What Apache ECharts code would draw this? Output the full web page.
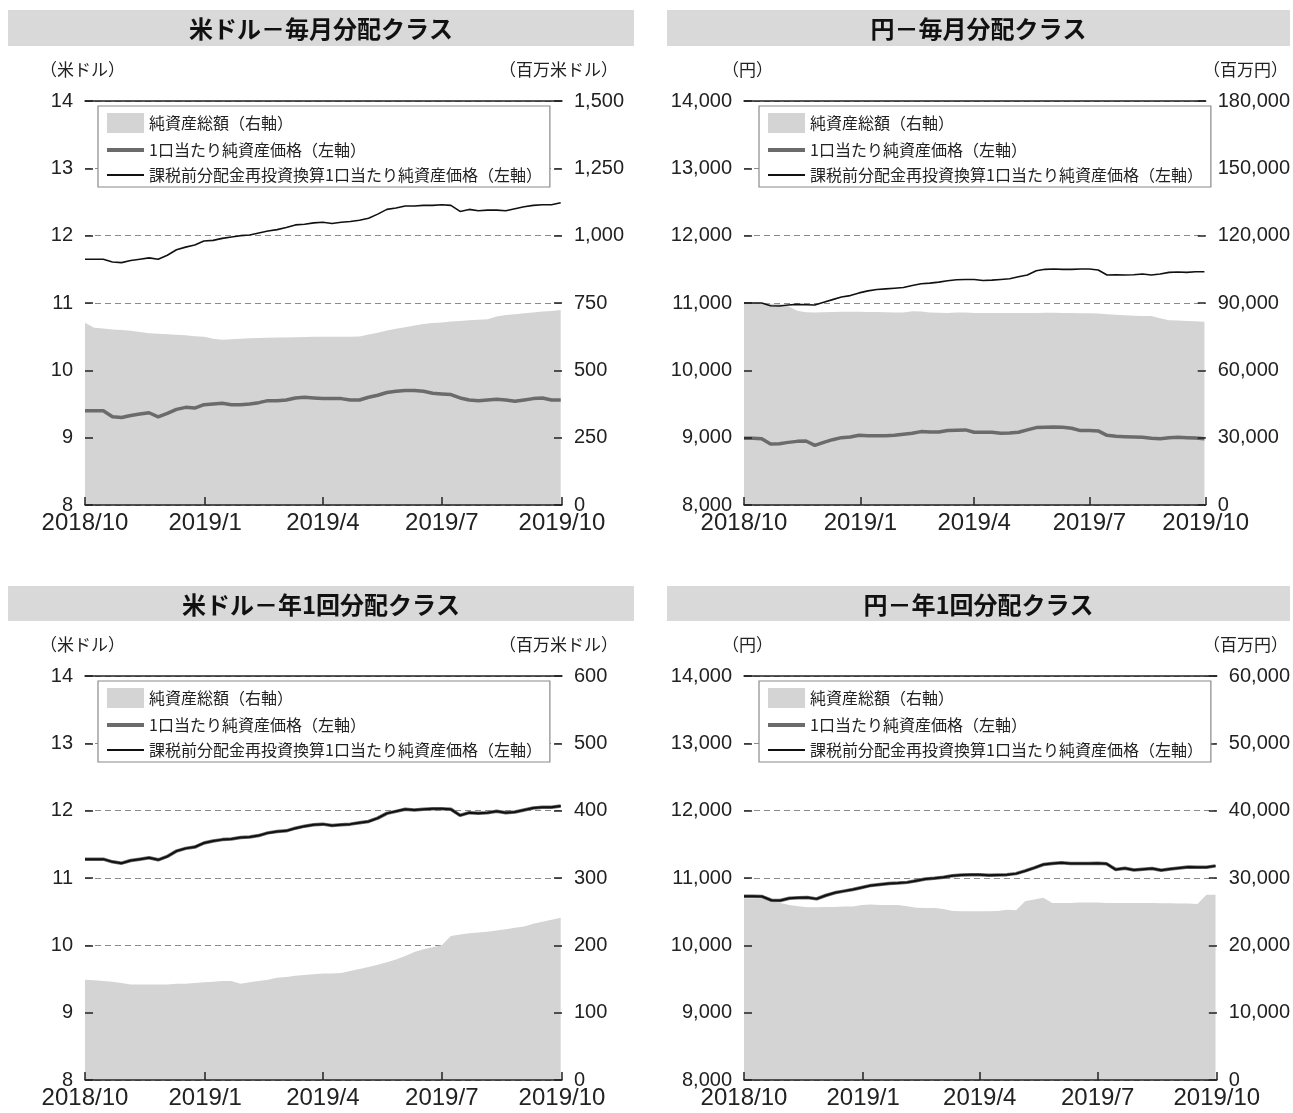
<!DOCTYPE html>
<html>
<head>
<meta charset="utf-8">
<script src="https://cdn.jsdelivr.net/npm/echarts@6/dist/echarts.min.js"></script>
<style>
  html, body { margin: 0; padding: 0; background: #fff; }
  #main { width: 1293px; height: 1113px; }
</style>
</head>
<body>
<div id="main"></div>
<script>
// weekly dates
const dates = [
  '2018-10-01','2018-10-08','2018-10-15','2018-10-22','2018-10-29','2018-11-05','2018-11-12','2018-11-19','2018-11-26',
  '2018-12-03','2018-12-10','2018-12-17','2018-12-24','2018-12-31','2019-01-07','2019-01-14','2019-01-21','2019-01-28',
  '2019-02-04','2019-02-11','2019-02-18','2019-02-25','2019-03-04','2019-03-11','2019-03-18','2019-03-25','2019-04-01',
  '2019-04-08','2019-04-15','2019-04-22','2019-04-29','2019-05-06','2019-05-13','2019-05-20','2019-05-27','2019-06-03',
  '2019-06-10','2019-06-17','2019-06-24','2019-07-01','2019-07-08','2019-07-15','2019-07-22','2019-07-29','2019-08-05',
  '2019-08-12','2019-08-19','2019-08-26','2019-09-02','2019-09-09','2019-09-16','2019-09-23','2019-09-30'
];
const quarterTicks = ['2018-10-01', '2019-01-01', '2019-04-01', '2019-07-01', '2019-10-01'];

// 米ドル－毎月分配クラス
const usdMonthlyNav = [9.40,9.40,9.40,9.31,9.30,9.33,9.35,9.37,9.31,9.36,9.42,9.45,9.44,9.49,9.50,9.51,9.49,9.49,9.50,9.52,9.55,9.55,9.56,9.59,9.60,9.59,9.58,9.58,9.58,9.56,9.56,9.60,9.63,9.67,9.69,9.70,9.70,9.69,9.66,9.65,9.64,9.59,9.56,9.55,9.56,9.57,9.56,9.54,9.56,9.58,9.59,9.56,9.56];
const usdMonthlyReinv = [11.65,11.65,11.65,11.61,11.60,11.63,11.65,11.67,11.65,11.71,11.79,11.83,11.86,11.92,11.93,11.96,11.98,12.00,12.01,12.04,12.07,12.09,12.12,12.16,12.17,12.19,12.20,12.18,12.20,12.21,12.23,12.26,12.32,12.39,12.41,12.44,12.44,12.45,12.45,12.46,12.45,12.36,12.39,12.37,12.38,12.38,12.37,12.40,12.43,12.45,12.46,12.46,12.49];
const usdMonthlyAssets = [677,658,655,652,650,647,642,638,636,634,632,630,627,625,617,614,615,617,619,620,621,622,622,623,624,625,625,625,625,625,626,633,640,648,654,660,666,672,676,678,681,683,686,688,690,700,705,708,712,715,718,720,724];

// 円－毎月分配クラス
const jpyMonthlyNav = [8990,8990,8985,8905,8910,8930,8945,8950,8885,8930,8970,9000,9010,9035,9030,9030,9030,9035,9050,9065,9090,9085,9085,9105,9110,9115,9080,9080,9080,9065,9070,9080,9115,9150,9155,9160,9155,9140,9105,9105,9100,9035,9020,9015,9010,9005,8990,8985,9000,9005,9000,8995,8985];
const jpyMonthlyReinv = [11000,11000,11000,10960,10955,10970,10980,10975,10970,11010,11050,11090,11110,11150,11180,11200,11210,11220,11230,11260,11285,11295,11310,11330,11345,11350,11350,11335,11340,11350,11360,11390,11415,11480,11500,11505,11500,11500,11505,11505,11490,11415,11420,11415,11420,11430,11415,11430,11455,11460,11455,11465,11465];
const jpyMonthlyAssets = [90000,89900,89800,89700,89500,88500,86500,85900,85800,85900,86000,86100,86100,86100,86000,86000,85900,85800,85800,86300,86200,85800,85700,85600,85800,85800,85600,85600,85500,85600,85600,85500,85500,85600,85700,85700,85600,85500,85400,85400,85300,85000,84800,84500,84300,84200,84200,83200,82300,82200,82000,81900,81700];

// 米ドル－年1回分配クラス (no distributions: both NAV lines overlap)
const usdAnnualNav = [11.28,11.28,11.28,11.24,11.22,11.26,11.28,11.30,11.27,11.32,11.40,11.44,11.46,11.52,11.55,11.57,11.58,11.60,11.61,11.63,11.67,11.69,11.70,11.74,11.77,11.79,11.80,11.78,11.79,11.80,11.82,11.84,11.89,11.96,11.99,12.02,12.01,12.02,12.03,12.03,12.02,11.93,11.97,11.96,11.97,11.99,11.97,11.98,12.01,12.04,12.05,12.05,12.07];
const usdAnnualReinv = [11.28,11.28,11.28,11.24,11.22,11.26,11.28,11.30,11.27,11.32,11.40,11.44,11.46,11.52,11.55,11.57,11.58,11.60,11.61,11.63,11.67,11.69,11.70,11.74,11.77,11.79,11.80,11.78,11.79,11.80,11.82,11.84,11.89,11.96,11.99,12.02,12.01,12.02,12.03,12.03,12.02,11.93,11.97,11.96,11.97,11.99,11.97,11.98,12.01,12.04,12.05,12.05,12.07];
const usdAnnualAssets = [149,148,147,146,144,142,142,142,142,142,143,143,144,145,146,147,147,143,145,147,149,152,153,155,156,157,158,158,159,162,165,168,171,175,179,184,190,194,197,200,214,216,218,219,220,222,224,226,228,232,235,238,241];

// 円－年1回分配クラス
const jpyAnnualNav = [10730,10730,10725,10670,10665,10700,10705,10710,10690,10740,10780,10805,10830,10860,10890,10905,10920,10925,10935,10960,10985,10995,11010,11035,11045,11050,11050,11040,11045,11050,11065,11105,11150,11200,11215,11225,11215,11215,11215,11220,11210,11125,11145,11120,11130,11140,11115,11135,11150,11165,11160,11160,11180];
const jpyAnnualReinv = [10730,10730,10725,10670,10665,10700,10705,10710,10690,10740,10780,10805,10830,10860,10890,10905,10920,10925,10935,10960,10985,10995,11010,11035,11045,11050,11050,11040,11045,11050,11065,11105,11150,11200,11215,11225,11215,11215,11215,11220,11210,11125,11145,11120,11130,11140,11115,11135,11150,11165,11160,11160,11180];
const jpyAnnualAssets = [27000,27000,26900,26500,26300,26000,25800,25650,25650,25700,25700,25750,25750,26000,26050,26000,26000,26000,25800,25600,25550,25550,25400,25100,25050,25050,25050,25050,25100,25300,25200,26550,26800,27050,26300,26300,26300,26350,26350,26350,26300,26300,26300,26300,26300,26300,26250,26250,26200,26200,26150,27500,27500];

const NAME_AREA = '純資産総額（右軸）';
const NAME_NAV = '1口当たり純資産価格（左軸）';
const NAME_RE = '課税前分配金再投資換算1口当たり純資産価格（左軸）';

const JP = '"Noto Sans CJK JP", sans-serif';
const NUM = '"Liberation Sans", Arial, sans-serif';

function toTime(s) {
  const p = s.split('-').map(Number);
  return new Date(p[0], p[1] - 1, p[2]).getTime();
}
const tDates = dates.map(toTime);
const tTicks = quarterTicks.map(toTime);
function pairs(vals) {
  return vals.map((v, i) => [tDates[i], v]);
}
function fmtNum(v) {
  return String(v).replace(/\B(?=(\d{3})+(?!\d))/g, ',');
}
function fmtDate(v) {
  const d = new Date(v);
  return d.getFullYear() + '/' + (d.getMonth() + 1);
}

const panels = [
  { title: '米ドル－毎月分配クラス', unitL: '（米ドル）', unitR: '（百万米ドル）', x: 85, y: 101, w: 477,
    lmin: 8, lmax: 14, lstep: 1, rmax: 1500, rstep: 250, reW: 1.6,
    nav: usdMonthlyNav, re: usdMonthlyReinv, assets: usdMonthlyAssets,
    bar: [8, 10, 626, 36], unitLX: 40, unitRX: 618, legX: 98 },
  { title: '円－毎月分配クラス', unitL: '（円）', unitR: '（百万円）', x: 744, y: 101, w: 478,
    lmin: 8000, lmax: 14000, lstep: 1000, rmax: 180000, rstep: 30000, reW: 1.6,
    nav: jpyMonthlyNav, re: jpyMonthlyReinv, assets: jpyMonthlyAssets,
    bar: [667, 10, 623, 36], unitLX: 722, unitRX: 1288, legX: 759 },
  { title: '米ドル－年1回分配クラス', unitL: '（米ドル）', unitR: '（百万米ドル）', x: 85, y: 676, w: 477,
    lmin: 8, lmax: 14, lstep: 1, rmax: 600, rstep: 100, reW: 2,
    nav: usdAnnualNav, re: usdAnnualReinv, assets: usdAnnualAssets,
    bar: [8, 586, 626, 35], unitLX: 40, unitRX: 618, legX: 98 },
  { title: '円－年1回分配クラス', unitL: '（円）', unitR: '（百万円）', x: 744, y: 676, w: 478,
    lmin: 8000, lmax: 14000, lstep: 1000, rmax: 60000, rstep: 10000, reW: 2,
    nav: jpyAnnualNav, re: jpyAnnualReinv, assets: jpyAnnualAssets,
    bar: [667, 586, 623, 35], unitLX: 722, unitRX: 1288, legX: 759 }
];

const grid = [], xAxis = [], yAxis = [], series = [], legend = [], graphic = [];
const axisColor = '#222';

panels.forEach((p, i) => {
  grid.push({ left: p.x, top: p.y, width: p.w, height: 404 });

  const tmin = tTicks[0], tmax = tTicks[tTicks.length - 1];
  xAxis.push({
    type: 'value', gridIndex: i, min: tmin, max: tmax, z: 3,
    axisLine: { show: true, lineStyle: { color: axisColor, width: 1.5 } },
    axisTick: { show: true, inside: true, length: 8, customValues: tTicks, lineStyle: { color: axisColor, width: 1.5 } },
    axisLabel: {
      customValues: tTicks, showMinLabel: true, showMaxLabel: true, hideOverlap: false,
      fontSize: 24, fontFamily: NUM, color: axisColor, margin: 6, formatter: fmtDate
    },
    splitLine: { show: false }
  });
  xAxis.push({
    type: 'value', gridIndex: i, position: 'top', min: tmin, max: tmax,
    axisLine: { show: true, lineStyle: { color: axisColor, width: 1.5 } },
    axisTick: { show: false }, axisLabel: { show: false }, splitLine: { show: false }
  });

  const tickStyle = { show: true, inside: true, length: 8, lineStyle: { color: axisColor, width: 1.5 } };
  yAxis.push({
    type: 'value', gridIndex: i, position: 'left', min: p.lmin, max: p.lmax, interval: p.lstep, z: 3,
    axisLine: { show: false }, axisTick: tickStyle,
    axisLabel: { fontSize: 20, fontFamily: NUM, color: axisColor, margin: 12, formatter: fmtNum },
    splitLine: { show: false }
  });
  yAxis.push({
    type: 'value', gridIndex: i, position: 'right', min: 0, max: p.rmax, interval: p.rstep, z: 3,
    axisLine: { show: false }, axisTick: tickStyle,
    axisLabel: { fontSize: 20, fontFamily: NUM, color: axisColor, margin: 12, formatter: fmtNum },
    splitLine: { show: false }
  });
  // gridlines only, kept underneath the area
  yAxis.push({
    type: 'value', gridIndex: i, position: 'left', min: p.lmin, max: p.lmax, interval: p.lstep,
    axisLine: { show: false }, axisTick: { show: false }, axisLabel: { show: false },
    splitLine: { show: true, lineStyle: { color: '#8a8a8a', width: 1.2, type: [6, 4] } }
  });

  series.push({
    name: NAME_AREA, type: 'line', xAxisIndex: 2 * i, yAxisIndex: 3 * i + 1,
    data: pairs(p.assets), symbol: 'none', silent: true,
    lineStyle: { width: 0 }, itemStyle: { color: '#d4d4d4' },
    areaStyle: { color: '#d4d4d4', opacity: 1 }, z: 2
  });
  series.push({
    name: NAME_NAV, type: 'line', xAxisIndex: 2 * i, yAxisIndex: 3 * i,
    data: pairs(p.nav), symbol: 'none', silent: true,
    lineStyle: { color: '#6b6b6b', width: 3.5 }, itemStyle: { color: '#6b6b6b' }, z: 2
  });
  series.push({
    name: NAME_RE, type: 'line', xAxisIndex: 2 * i, yAxisIndex: 3 * i,
    data: pairs(p.re), symbol: 'none', silent: true,
    lineStyle: { color: '#111', width: p.reW }, itemStyle: { color: '#111' }, z: 2
  });

  legend.push({
    left: p.legX, top: p.y + 5, orient: 'vertical', selectedMode: false,
    itemWidth: 37, itemHeight: 20, itemGap: 9,
    backgroundColor: '#fff', borderColor: '#8a8a8a', borderWidth: 1.2,
    padding: [7, 8, 4, 9],
    textStyle: { fontSize: 16, fontFamily: JP, color: '#222' },
    data: [
      { name: NAME_AREA, icon: 'rect', itemStyle: { color: '#d4d4d4' } },
      { name: NAME_NAV, icon: 'path://M0,0H40V4.2H0Z', itemStyle: { color: '#6b6b6b' } },
      { name: NAME_RE, icon: 'path://M0,0H40V2H0Z', itemStyle: { color: '#111' } }
    ]
  });

  graphic.push({
    type: 'rect', shape: { x: p.bar[0], y: p.bar[1], width: p.bar[2], height: p.bar[3] },
    style: { fill: '#d9d9d9' }, z: -1, silent: true
  });
  graphic.push({
    type: 'text', x: p.bar[0] + p.bar[2] / 2, y: p.bar[1] + p.bar[3] / 2 + 1,
    style: { text: p.title, fontSize: 24, fontWeight: 'bold', fontFamily: JP, fill: '#111', align: 'center', verticalAlign: 'middle' }
  });
  graphic.push({
    type: 'text', x: p.unitLX, y: p.y - 31,
    style: { text: p.unitL, fontSize: 17, fontFamily: JP, fill: '#222', align: 'left', verticalAlign: 'middle' }
  });
  graphic.push({
    type: 'text', x: p.unitRX, y: p.y - 31,
    style: { text: p.unitR, fontSize: 17, fontFamily: JP, fill: '#222', align: 'right', verticalAlign: 'middle' }
  });
});

const chart = echarts.init(document.getElementById('main'), null, { renderer: 'canvas' });
chart.setOption({
  animation: false,
  backgroundColor: '#fff',
  grid: grid,
  xAxis: xAxis,
  yAxis: yAxis,
  legend: legend,
  series: series,
  graphic: graphic
});
</script>
</body>
</html>
